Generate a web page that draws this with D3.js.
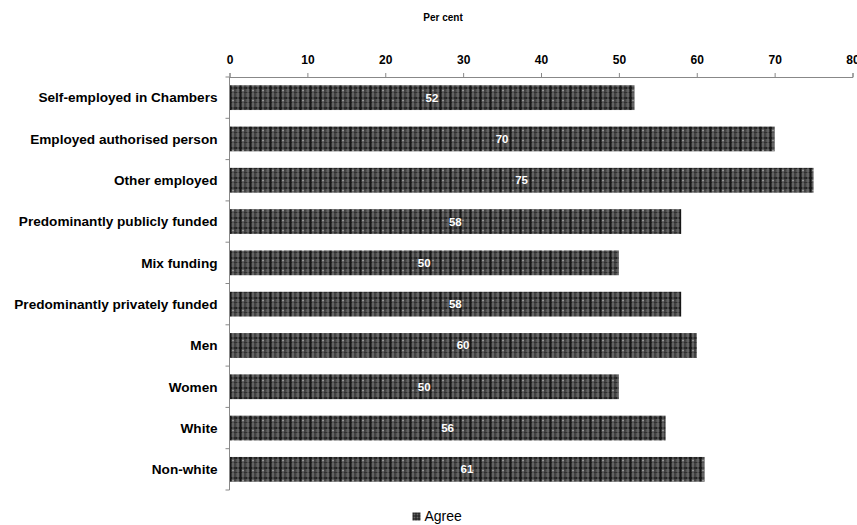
<!DOCTYPE html>
<html>
<head>
<meta charset="utf-8">
<script src="https://cdn.jsdelivr.net/npm/d3@7/dist/d3.min.js"></script>
<style>
  html, body { margin: 0; padding: 0; background: #fff; }
  svg { display: block; font-family: "Liberation Sans", Arial, sans-serif; }
</style>
</head>
<body>
<svg id="chart" width="857" height="525"></svg>
<script>
// Share who agree, by group
const categories = [
  "Self-employed in Chambers",
  "Employed authorised person",
  "Other employed",
  "Predominantly publicly funded",
  "Mix funding",
  "Predominantly privately funded",
  "Men",
  "Women",
  "White",
  "Non-white"
];
const agree = [52, 70, 75, 58, 50, 58, 60, 50, 56, 61];
const xTicks = [0, 10, 20, 30, 40, 50, 60, 70, 80];
const seriesName = "Agree";
const axisTitle = "Per cent";

const svg = d3.select("#chart");
const margin = { top: 77, left: 229.5, right: 4.5, bottom: 35 };
const width = 857 - margin.left - margin.right;
const height = 525 - margin.top - margin.bottom;

// Plaid fill used for the bars
const defs = svg.append("defs");
const pat = defs.append("pattern")
  .attr("id", "plaid")
  .attr("patternUnits", "userSpaceOnUse")
  .attr("width", 10).attr("height", 10);
pat.append("rect").attr("width", 10).attr("height", 10).attr("fill", "#555");
pat.append("rect").attr("x", 0).attr("y", 0).attr("width", 10).attr("height", 2).attr("fill", "#222");
pat.append("rect").attr("x", 0).attr("y", 5).attr("width", 10).attr("height", 1).attr("fill", "#303030");
pat.append("rect").attr("x", 0).attr("y", 0).attr("width", 2).attr("height", 10).attr("fill", "#161616");
pat.append("rect").attr("x", 5).attr("y", 0).attr("width", 1).attr("height", 10).attr("fill", "#303030");
pat.append("rect").attr("x", 3).attr("y", 0).attr("width", 1).attr("height", 10).attr("fill", "#747474");
pat.append("rect").attr("x", 8).attr("y", 0).attr("width", 1).attr("height", 10).attr("fill", "#747474");
pat.append("rect").attr("x", 3).attr("y", 3).attr("width", 1).attr("height", 1).attr("fill", "#d8d8d8");

// Finer version of the same plaid for the legend key
const patSmall = defs.append("pattern")
  .attr("id", "plaid-small")
  .attr("patternUnits", "userSpaceOnUse")
  .attr("width", 3).attr("height", 3);
patSmall.append("rect").attr("width", 3).attr("height", 3).attr("fill", "#666");
patSmall.append("rect").attr("width", 3).attr("height", 1).attr("fill", "#1a1a1a");
patSmall.append("rect").attr("width", 1).attr("height", 3).attr("fill", "#1a1a1a");

const g = svg.append("g").attr("transform", `translate(${margin.left},${margin.top})`);

const x = d3.scaleLinear().domain([0, 80]).range([0, width]);
const y = d3.scaleBand().domain(categories).range([0, height]).paddingInner(0.4).paddingOuter(0.2);

// Bars
g.selectAll("rect.bar")
  .data(categories)
  .join("rect")
  .attr("class", "bar")
  .attr("x", x(0))
  .attr("y", d => y(d))
  .attr("width", (d, i) => x(agree[i]) - x(0))
  .attr("height", y.bandwidth())
  .attr("fill", "url(#plaid)");

// Value labels
g.selectAll("text.val")
  .data(categories)
  .join("text")
  .attr("class", "val")
  .attr("x", (d, i) => x(agree[i] / 2))
  .attr("y", d => y(d) + y.bandwidth() / 2)
  .attr("dy", "0.35em")
  .attr("text-anchor", "middle")
  .attr("fill", "#fff")
  .attr("font-weight", "bold")
  .attr("font-size", 11.5)
  .text((d, i) => agree[i]);

// Top value axis
const xAxis = g.append("g")
  .call(d3.axisTop(x).tickValues(xTicks).tickSize(4).tickPadding(9).tickFormat(d3.format("d")));
xAxis.select(".domain").attr("stroke", "#888");
xAxis.selectAll(".tick line").attr("stroke", "#888");
xAxis.selectAll(".tick text").attr("font-size", 12).attr("font-weight", "bold").attr("fill", "#000")
  .attr("font-family", "Liberation Sans, Arial, sans-serif");

// Left category axis with ticks at band boundaries
const boundaries = d3.range(categories.length + 1).map(i => i * height / categories.length);
const yAxisG = g.append("g");
yAxisG.append("line").attr("x1", 0).attr("x2", 0).attr("y1", 0).attr("y2", height).attr("stroke", "#888");
yAxisG.selectAll("line.tk")
  .data(boundaries)
  .join("line")
  .attr("class", "tk")
  .attr("x1", -4).attr("x2", 0)
  .attr("y1", d => d).attr("y2", d => d)
  .attr("stroke", "#888");
yAxisG.selectAll("text.cat")
  .data(categories)
  .join("text")
  .attr("class", "cat")
  .attr("x", -12)
  .attr("y", d => y(d) + y.bandwidth() / 2)
  .attr("dy", "0.35em")
  .attr("text-anchor", "end")
  .attr("font-size", 13.6)
  .attr("font-weight", "bold")
  .attr("fill", "#000")
  .text(d => d);

// Axis title
svg.append("text")
  .attr("x", 443).attr("y", 21)
  .attr("text-anchor", "middle")
  .attr("font-size", 10)
  .attr("font-weight", "bold")
  .text(axisTitle);

// Legend
const leg = svg.append("g").attr("transform", "translate(412.5,512.5)");
leg.append("rect").attr("width", 8).attr("height", 8).attr("fill", "url(#plaid-small)");
leg.append("text").attr("x", 12).attr("y", 4).attr("dy", "0.35em")
  .attr("font-size", 14).attr("fill", "#000").text(seriesName);
</script>
</body>
</html>
